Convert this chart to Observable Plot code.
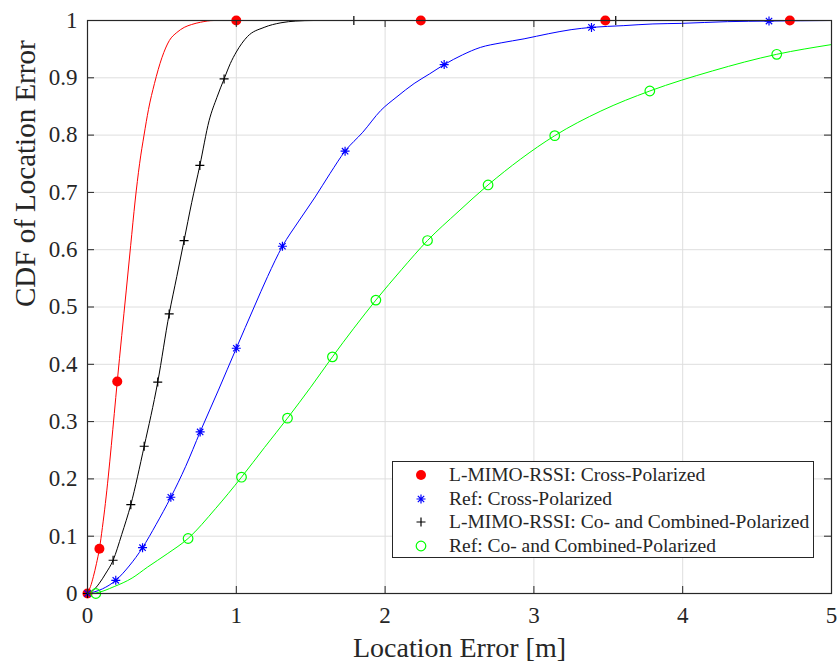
<!DOCTYPE html>
<html><head><meta charset="utf-8">
<script src="https://cdn.jsdelivr.net/npm/d3@7"></script>
<script src="https://cdn.jsdelivr.net/npm/@observablehq/plot@0.6"></script>
<style>
body{margin:0;background:#fff;}
#wrap{position:relative;width:837px;height:664px;font-family:'Liberation Serif','Times New Roman',Times,'Nimbus Roman','DejaVu Serif',serif;}
#legend{position:absolute;left:392px;top:461px;width:422px;height:97px;border:1px solid #262626;background:#fff;box-sizing:border-box;}
.row{position:absolute;height:24px;line-height:24px;font-size:19.5px;color:#262626;white-space:nowrap;}
.sym{position:absolute;width:14px;height:14px;}
</style></head><body><div id="wrap"></div>
<script>
// ---- data ----
const xTicks = [0, 1, 2, 3, 4, 5];
const xTickLabels = ["0", "1", "2", "3", "4", "5"];
const yTicks = [0, 0.1, 0.2, 0.3, 0.4, 0.5, 0.6, 0.7, 0.8, 0.9, 1];
const yTickLabels = ["0", "0.1", "0.2", "0.3", "0.4", "0.5", "0.6", "0.7", "0.8", "0.9", "1"];

const seriesNames = ["L-MIMO-RSSI: Cross-Polarized", "Ref: Cross-Polarized", "L-MIMO-RSSI: Co- and Combined-Polarized", "Ref: Co- and Combined-Polarized"];
const seriesColors = ["#ff0000", "#0000ff", "#000000", "#00ff00"];

// L-MIMO-RSSI: Cross-Polarized (red)
const redX = [0, 0.02, 0.04, 0.06, 0.08, 0.1, 0.12, 0.14, 0.16, 0.18, 0.2, 0.23, 0.26, 0.29, 0.32, 0.35, 0.38, 0.41, 0.45, 0.5, 0.55, 0.6, 0.65, 0.7, 0.76, 0.85, 1.0, 5.0];
const redY = [0, 0.012, 0.03, 0.052, 0.078, 0.115, 0.157, 0.205, 0.258, 0.314, 0.37, 0.45, 0.528, 0.607, 0.685, 0.75, 0.8, 0.845, 0.89, 0.935, 0.965, 0.979, 0.988, 0.993, 0.997, 1, 1, 1];
const redMX = [0, 0.08, 0.2, 1.0, 2.24, 3.48, 4.72];
const redMY = [0, 0.078, 0.37, 1, 1, 1, 1];

// Ref: Cross-Polarized (blue)
const blueX = [0, 0.1, 0.19, 0.28, 0.37, 0.46, 0.56, 0.66, 0.757, 0.88, 1.0, 1.12, 1.21, 1.31, 1.42, 1.53, 1.63, 1.731, 1.85, 1.971, 2.08, 2.195, 2.3, 2.397, 2.52, 2.64, 2.78, 2.934, 3.1, 3.25, 3.387, 3.6, 3.8, 3.99, 4.3, 4.58, 5.0];
const blueY = [0, 0.008, 0.023, 0.048, 0.08, 0.12, 0.168, 0.222, 0.282, 0.355, 0.428, 0.5, 0.553, 0.606, 0.65, 0.692, 0.733, 0.772, 0.805, 0.843, 0.867, 0.89, 0.907, 0.923, 0.94, 0.953, 0.961, 0.968, 0.977, 0.984, 0.988, 0.991, 0.994, 0.995, 0.998, 0.999, 1];
const blueMX = [0, 0.19, 0.37, 0.56, 0.757, 1.0, 1.31, 1.731, 2.397, 3.387, 4.58];
const blueMY = [0, 0.023, 0.08, 0.168, 0.282, 0.428, 0.606, 0.772, 0.923, 0.988, 0.999];

// L-MIMO-RSSI: Co- and Combined-Polarized (black)
const blackX = [0, 0.04, 0.08, 0.12, 0.172, 0.23, 0.291, 0.381, 0.472, 0.549, 0.6, 0.649, 0.7, 0.755, 0.817, 0.87, 0.918, 0.96, 1.0, 1.075, 1.187, 1.3, 1.4, 1.52, 1.79, 3.55, 5.0];
const blackY = [0, 0.006, 0.018, 0.034, 0.058, 0.103, 0.155, 0.257, 0.369, 0.488, 0.553, 0.616, 0.682, 0.747, 0.825, 0.866, 0.898, 0.925, 0.945, 0.972, 0.988, 0.996, 0.999, 1, 1, 1, 1];
const blackMX = [0, 0.172, 0.291, 0.381, 0.472, 0.549, 0.649, 0.755, 0.918, 1.79, 3.55];
const blackMY = [0, 0.058, 0.155, 0.257, 0.369, 0.488, 0.616, 0.747, 0.898, 1, 1];

// Ref: Co- and Combined-Polarized (green)
const greenX = [0, 0.056, 0.179, 0.3, 0.403, 0.54, 0.676, 0.86, 1.035, 1.19, 1.344, 1.5, 1.646, 1.79, 1.938, 2.11, 2.285, 2.49, 2.692, 2.91, 3.14, 3.45, 3.779, 4.2, 4.632, 5.0];
const greenY = [0, 0.001, 0.012, 0.027, 0.046, 0.07, 0.096, 0.148, 0.203, 0.255, 0.306, 0.36, 0.413, 0.463, 0.512, 0.565, 0.616, 0.666, 0.713, 0.758, 0.799, 0.842, 0.877, 0.912, 0.941, 0.958];
const greenMX = [0.056, 0.676, 1.035, 1.344, 1.646, 1.938, 2.285, 2.692, 3.14, 3.779, 4.632];
const greenMY = [0, 0.096, 0.203, 0.306, 0.413, 0.512, 0.616, 0.713, 0.799, 0.877, 0.941];

// ---- build ----
const rows = (xs, ys) => xs.map((x, i) => ({x, y: ys[i]}));
const font = "'Liberation Serif','Times New Roman',Times,'Nimbus Roman','DejaVu Serif',serif";
const axisColor = "#262626";

const star8 = {draw(ctx, size) {
  const r = Math.sqrt(size / Math.PI), d = r * Math.SQRT1_2;
  ctx.moveTo(-r, 0); ctx.lineTo(r, 0);
  ctx.moveTo(0, -r); ctx.lineTo(0, r);
  ctx.moveTo(-d, -d); ctx.lineTo(d, d);
  ctx.moveTo(-d, d); ctx.lineTo(d, -d);
}};
const plus = {draw(ctx, size) {
  const r = Math.sqrt(size / Math.PI);
  ctx.moveTo(-r, 0); ctx.lineTo(r, 0);
  ctx.moveTo(0, -r); ctx.lineTo(0, r);
}};

const W = 837, H = 664, mL = 87, mR = 6, mT = 20, mB = 71;
const fw = W - mL - mR, fh = H - mT - mB, tickLen = 7;
const curve = "monotone-x";

const chart = Plot.plot({
  width: W, height: H, marginLeft: mL, marginRight: mR, marginTop: mT, marginBottom: mB,
  style: {fontFamily: font, background: "#fff", color: axisColor},
  x: {domain: [0, 5], label: null},
  y: {domain: [0, 1], label: null},
  marks: [
    Plot.gridX(xTicks, {stroke: "#dedede", strokeOpacity: 1}),
    Plot.gridY(yTicks, {stroke: "#dedede", strokeOpacity: 1}),
    Plot.line(rows(redX, redY), {x: "x", y: "y", stroke: seriesColors[0], strokeWidth: 1, curve}),
    Plot.line(rows(blueX, blueY), {x: "x", y: "y", stroke: seriesColors[1], strokeWidth: 1, curve}),
    Plot.line(rows(blackX, blackY), {x: "x", y: "y", stroke: seriesColors[2], strokeWidth: 1, curve}),
    Plot.line(rows(greenX, greenY), {x: "x", y: "y", stroke: seriesColors[3], strokeWidth: 1, curve}),
    Plot.dot(rows(redMX, redMY), {x: "x", y: "y", r: 5, fill: seriesColors[0], stroke: "none"}),
    Plot.dot(rows(blueMX, blueMY), {x: "x", y: "y", r: 4.5, symbol: star8, stroke: seriesColors[1], strokeWidth: 1.2}),
    Plot.dot(rows(blackMX, blackMY), {x: "x", y: "y", r: 4.5, symbol: plus, stroke: seriesColors[2], strokeWidth: 1.2}),
    Plot.dot(rows(greenMX, greenMY), {x: "x", y: "y", r: 4.8, symbol: "circle", stroke: seriesColors[3], fill: "none", strokeWidth: 1.2}),
    Plot.tickX(xTicks, {x: d => d, insetTop: fh - tickLen, stroke: axisColor}),
    Plot.tickX(xTicks, {x: d => d, insetBottom: fh - tickLen, stroke: axisColor}),
    Plot.tickY(yTicks, {y: d => d, insetRight: fw - tickLen, stroke: axisColor}),
    Plot.tickY(yTicks, {y: d => d, insetLeft: fw - tickLen, stroke: axisColor}),
    Plot.frame({stroke: axisColor, strokeWidth: 1.2}),
    Plot.axisX({ticks: xTicks, tickSize: 0, tickPadding: 13, fontSize: 23, label: null,
      tickFormat: d => xTickLabels[xTicks.indexOf(d)]}),
    Plot.axisY({ticks: yTicks, tickSize: 0, tickPadding: 10, fontSize: 23, label: null,
      tickFormat: d => yTickLabels[yTicks.indexOf(d)]}),
    Plot.text(["Location Error [m]"], {frameAnchor: "bottom", dy: 55, fontSize: 28, lineAnchor: "middle", fill: axisColor}),
    Plot.text(["CDF of Location Error"], {frameAnchor: "left", dx: -62, rotate: -90, fontSize: 29, lineAnchor: "middle", fill: axisColor})
  ]
});
const wrap = document.getElementById("wrap");
chart.style.position = "absolute"; chart.style.left = "0"; chart.style.top = "0";
wrap.appendChild(chart);

// legend
const legend = document.createElement("div");
legend.id = "legend";
wrap.appendChild(legend);
const legendSymbols = [
  {sym: d3.symbolCircle, r: 5, fill: seriesColors[0], stroke: "none"},
  {sym: star8, r: 4.5, fill: "none", stroke: seriesColors[1]},
  {sym: plus, r: 4.5, fill: "none", stroke: seriesColors[2]},
  {sym: d3.symbolCircle, r: 4.8, fill: "none", stroke: seriesColors[3]}
];
seriesNames.forEach((name, i) => {
  const cy = 475 + 23.6 * i;
  const s = legendSymbols[i];
  const svg = d3.create("svg").attr("class", "sym").attr("width", 14).attr("height", 14)
    .style("left", (421 - 7) + "px").style("top", (cy - 7) + "px").style("overflow", "visible");
  svg.append("path").attr("transform", "translate(7,7)")
    .attr("d", d3.symbol(s.sym, Math.PI * s.r * s.r)())
    .attr("fill", s.fill).attr("stroke", s.stroke).attr("stroke-width", 1.2);
  wrap.appendChild(svg.node());
  const row = document.createElement("div");
  row.className = "row";
  row.style.left = "449px";
  row.style.top = (cy - 12) + "px";
  row.style.fontFamily = font;
  row.textContent = name;
  wrap.appendChild(row);
});
</script>
</body></html>
